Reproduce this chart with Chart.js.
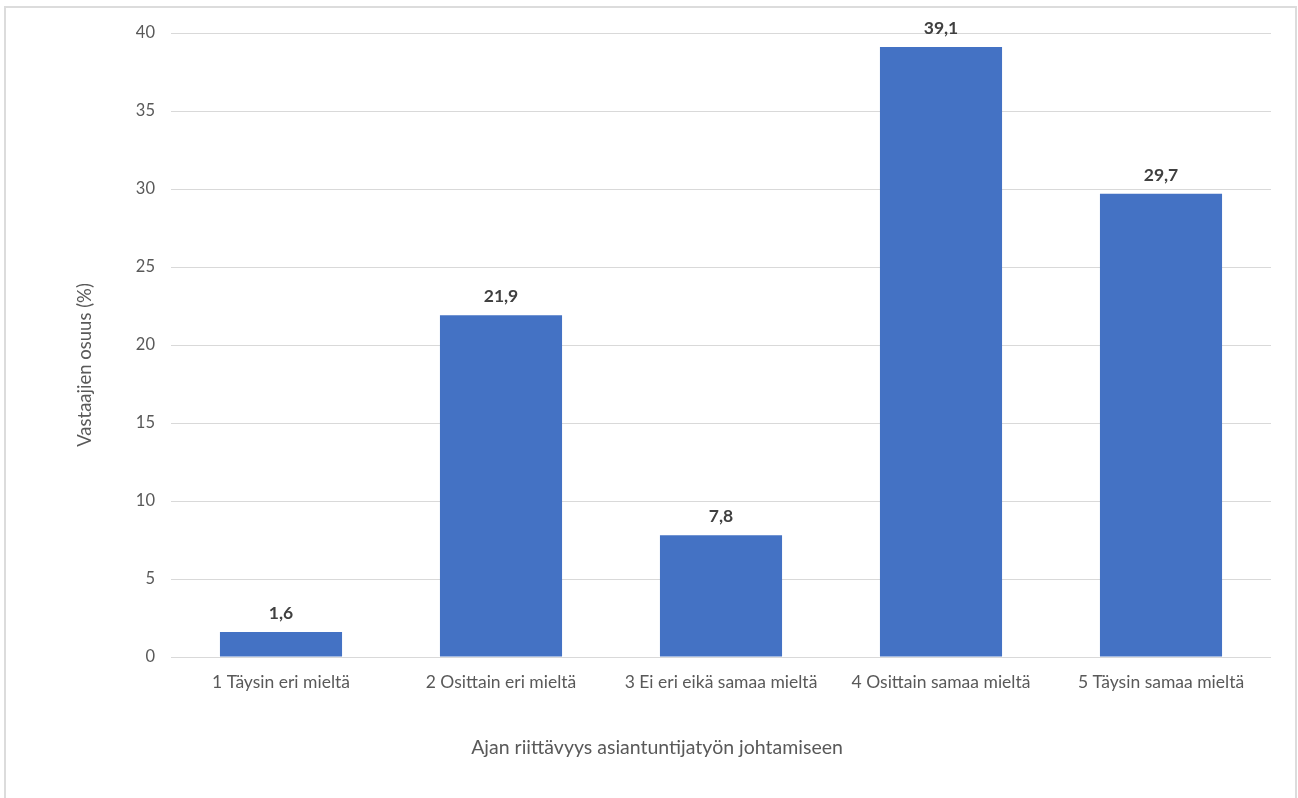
<!DOCTYPE html>
<html>
<head>
<meta charset="utf-8">
<script src="https://cdn.jsdelivr.net/npm/chart.js@4"></script>
<style>
  html, body { margin: 0; padding: 0; background: #fff; }
  #wrap { position: relative; width: 1298px; height: 798px; overflow: hidden; }
  #frame { position: absolute; left: 4px; top: 6px; width: 1289px; height: 900px; border: 2px solid #dcdcdc; pointer-events: none; }
  canvas { display: block; }
</style>
</head>
<body>
<div id="wrap">
  <canvas id="c" width="1298" height="798"></canvas>
  <div id="frame"></div>
</div>
<script>
const categories = ["1 Täysin eri mieltä", "2 Osittain eri mieltä", "3 Ei eri eikä samaa mieltä", "4 Osittain samaa mieltä", "5 Täysin samaa mieltä"];
const values = [1.6, 21.9, 7.8, 39.1, 29.7];
const yTicks = [0, 5, 10, 15, 20, 25, 30, 35, 40];
const xTitle = "Ajan riittävyys asiantuntijatyön johtamiseen";
const yTitle = "Vastaajien osuus (%)";

const fmt = v => v.toFixed(1).replace('.', ',');
const FONT = 'Lato, "Open Sans", sans-serif';

const dataLabels = {
  id: 'dataLabels',
  afterDatasetsDraw(chart) {
    const ctx = chart.ctx;
    const meta = chart.getDatasetMeta(0);
    ctx.save();
    ctx.font = 'bold 17.5px ' + FONT;
    ctx.fillStyle = '#404040';
    ctx.textAlign = 'center';
    ctx.textBaseline = 'alphabetic';
    meta.data.forEach((bar, i) => {
      ctx.fillText(fmt(chart.data.datasets[0].data[i]), bar.x, bar.y - 13);
    });
    ctx.restore();
  }
};

const axisTitles = {
  id: 'axisTitles',
  afterDraw(chart) {
    const ctx = chart.ctx;
    ctx.save();
    ctx.fillStyle = '#595959';
    ctx.textAlign = 'center';
    ctx.textBaseline = 'middle';
    ctx.font = '19.5px ' + FONT;
    ctx.fillText(xTitle, 657, 748);
    ctx.translate(85, 365);
    ctx.rotate(-Math.PI / 2);
    ctx.font = '18.5px ' + FONT;
    ctx.fillText(yTitle, 0, 0);
    ctx.restore();
  }
};

new Chart(document.getElementById('c'), {
  type: 'bar',
  data: {
    labels: categories,
    datasets: [{
      data: values,
      backgroundColor: '#4472C4',
      borderWidth: 0,
      barPercentage: 0.555,
      categoryPercentage: 1.0
    }]
  },
  options: {
    responsive: false,
    animation: false,
    devicePixelRatio: 1,
    layout: { padding: { top: 33, right: 27, left: 0, bottom: 0 } },
    plugins: { legend: { display: false }, tooltip: { enabled: false } },
    scales: {
      x: {
        afterFit(scale) { scale.height = 141; },
        grid: { display: false, drawTicks: false },
        border: { display: false },
        ticks: {
          color: '#595959',
          font: { family: FONT, size: 17.5 },
          padding: 15,
          maxRotation: 0,
          autoSkip: false
        }
      },
      y: {
        min: 0,
        max: 40,
        afterFit(scale) { scale.width = 171; },
        afterBuildTicks(scale) { scale.ticks = yTicks.map(v => ({ value: v })); },
        grid: { color: '#d9d9d9', lineWidth: 1, drawTicks: false },
        border: { display: false },
        ticks: {
          color: '#595959',
          font: { family: FONT, size: 16.5 },
          padding: 16
        }
      }
    }
  },
  plugins: [dataLabels, axisTitles]
});
</script>
</body>
</html>
